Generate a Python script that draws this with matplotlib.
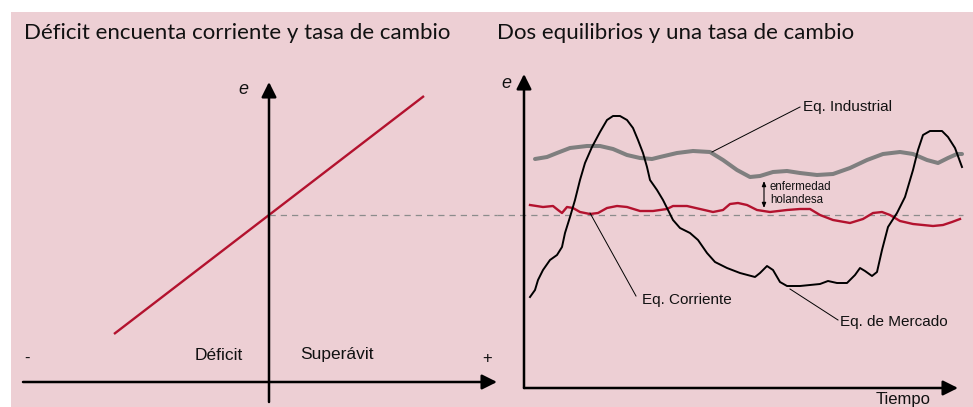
import matplotlib.pyplot as plt
from matplotlib.patches import Rectangle

# --- data ---
# left panel: current account balance vs exchange rate
saldo = [-155, 155]
e_saldo = [54, 292]
e_equilibrio = 173

# right panel: three equilibria over time
t_industrial = [11, 23, 33, 46, 63, 76, 89, 103, 116, 128, 136, 153, 169, 186, 199, 213, 226,
                236, 249, 263, 276, 293, 309, 326, 343, 359, 376, 389, 403, 414, 424, 433, 438]
e_industrial = [229, 231, 235, 240, 242, 242, 239, 233, 230, 229, 231, 235, 237, 236, 228, 218, 211,
                212, 216, 217, 215, 213, 214, 220, 228, 234, 236, 234, 228, 225, 230, 234, 234]

t_corriente = [6, 19, 29, 34, 38, 43, 49, 56, 66, 74, 83, 93, 103, 116, 129, 143, 149, 163, 176, 189,
               199, 206, 214, 223, 233, 246, 263, 276, 286, 296, 309, 326, 339, 349, 358, 366, 376,
               389, 409, 419, 428, 436]
e_corriente = [183, 181, 182, 178, 175, 181, 180, 176, 174, 175, 180, 182, 181, 177, 177, 179, 182,
               182, 179, 176, 178, 184, 185, 183, 178, 176, 178, 179, 179, 173, 168, 165, 169, 175,
               176, 173, 167, 164, 162, 163, 166, 169]

t_mercado = [6, 11, 14, 19, 26, 33, 38, 41, 46, 51, 56, 61, 68, 76, 83, 89, 96, 103, 109, 114,
             119, 123, 126, 133, 139, 144, 149, 156, 166, 174, 183, 191, 203, 216, 231, 236, 243,
             249, 256, 263, 276, 286, 296, 304, 313, 323, 331, 336, 341, 348, 353, 358, 364, 373,
             381, 389, 394, 399, 406, 418, 424, 431, 438]
e_mercado = [91, 98, 108, 118, 128, 133, 141, 155, 171, 188, 208, 225, 241, 256, 268, 272, 272, 268,
             260, 248, 235, 221, 208, 198, 188, 178, 168, 160, 155, 148, 135, 126, 120, 115, 111,
             115, 122, 118, 106, 102, 102, 103, 104, 107, 105, 105, 113, 120, 117, 112, 116, 138,
             161, 175, 191, 218, 238, 253, 257, 257, 251, 240, 221]

PINK = '#EDCFD4'
RED = '#B3122E'
GRAY = '#7F7F7F'
W, H = 973, 407

fig = plt.figure(figsize=(W / 100, H / 100), dpi=100)
fig.patch.set_facecolor('white')
fig.patches.append(Rectangle((11 / W, 0), 1, (H - 12) / H, transform=fig.transFigure,
                             facecolor=PINK, edgecolor='none', zorder=-10))

ylim = (-19, 376)
ax1 = fig.add_axes([11 / W, 0, 486 / W, 395 / H])
ax1.set_xlim(-258, 228)
ax1.set_ylim(*ylim)
ax2 = fig.add_axes([497 / W, 0, 476 / W, 395 / H])
ax2.set_xlim(-27, 449)
ax2.set_ylim(*ylim)
for ax in (ax1, ax2):
    ax.axis('off')

arrow = dict(arrowstyle='-|>,head_length=0.9,head_width=0.45', color='black', lw=1.8,
             shrinkA=0, shrinkB=0)
title_font = dict(family='Lato', fontsize=16, color='#111111', va='center')
txt = dict(family='Liberation Sans', color='#111111')

# left panel
ax1.annotate('', xy=(228, 6), xytext=(-246, 6), arrowprops=arrow, annotation_clip=False)
ax1.annotate('', xy=(0, 306), xytext=(0, -14), arrowprops=arrow, annotation_clip=False)
ax1.plot(saldo, e_saldo, color=RED, lw=1.7, solid_capstyle='butt', clip_on=False)
ax1.plot([0, 228], [e_equilibrio, e_equilibrio], color='#8C8C8C', lw=0.9,
         dashes=(5, 4), clip_on=False)
ax1.text(-245, 355, 'Déficit encuenta corriente y tasa de cambio', **title_font)
ax1.text(-26, 298, 'e', fontsize=13, style='italic', ha='center', va='center', **txt)
ax1.text(-242, 30, '-', fontsize=12, ha='center', va='center', **txt)
ax1.text(-50, 33, 'Déficit', fontsize=12.5, ha='center', va='center', **txt)
ax1.text(68, 33, 'Superávit', fontsize=12.5, ha='center', va='center', **txt)
ax1.text(218, 30, '+', fontsize=12, ha='center', va='center', **txt)

# right panel
ax2.annotate('', xy=(434, 0), xytext=(0, 0), arrowprops=arrow, annotation_clip=False)
ax2.annotate('', xy=(0, 314), xytext=(0, 0), arrowprops=arrow, annotation_clip=False)
ax2.plot([-27, 439], [e_equilibrio, e_equilibrio], color='#8C8C8C', lw=0.9,
         dashes=(5, 4), clip_on=False)
ax2.plot(t_industrial, e_industrial, color=GRAY, lw=2.9, solid_joinstyle='round',
         solid_capstyle='round', clip_on=False)
ax2.plot(t_corriente, e_corriente, color=RED, lw=1.7, solid_joinstyle='round', clip_on=False)
ax2.plot(t_mercado, e_mercado, color='black', lw=1.4, solid_joinstyle='round', clip_on=False)

ax2.text(-27, 355, 'Dos equilibrios y una tasa de cambio', **title_font)
ax2.text(-18, 305, 'e', fontsize=13, style='italic', ha='center', va='center', **txt)
ax2.text(379, -19, 'Tiempo', fontsize=12, ha='center', va='bottom', **txt)

# leaders and labels
ax2.plot([188, 276], [236, 281], color='black', lw=0.7)
ax2.text(279, 281, 'Eq. Industrial', fontsize=11, va='center', **txt)
ax2.plot([66, 112], [175, 92], color='black', lw=0.7)
ax2.text(118, 88, 'Eq. Corriente', fontsize=11, va='center', **txt)
ax2.plot([266, 314], [99, 68], color='black', lw=0.7)
ax2.text(316, 66, 'Eq. de Mercado', fontsize=11, va='center', **txt)

ax2.annotate('', xy=(240, 207), xytext=(240, 180),
             arrowprops=dict(arrowstyle='<|-|>,head_length=0.3,head_width=0.12',
                             color='black', lw=0.8, shrinkA=0, shrinkB=0))
ax2.text(246, 201, 'enfermedad', fontsize=8.3, va='center', **txt)
ax2.text(246, 188, 'holandesa', fontsize=8.3, va='center', **txt)

fig.savefig('out.png', dpi=100)
